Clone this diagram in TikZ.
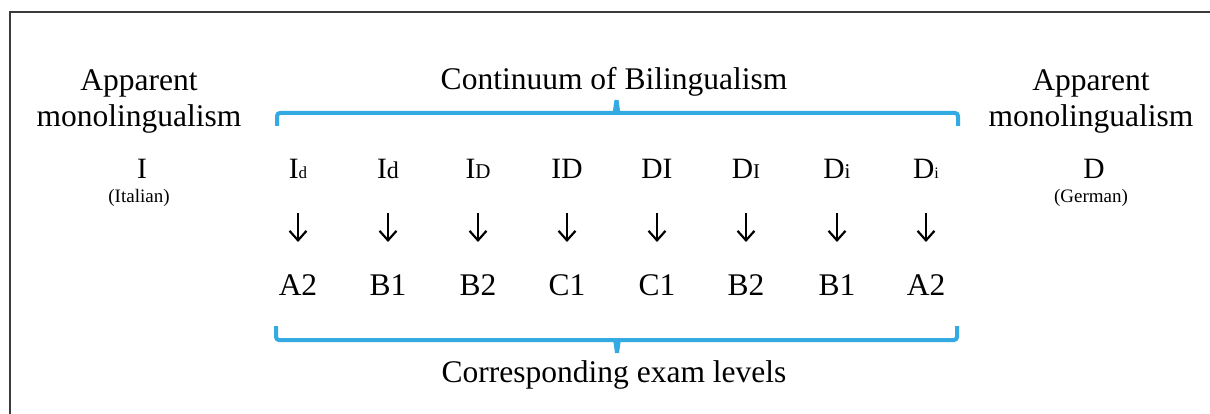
\documentclass[tikz,border=0pt]{standalone}
\usepackage{fontspec}
\setmainfont{Liberation Serif}
\usetikzlibrary{arrows.meta}
\definecolor{bblue}{RGB}{51,170,225}
\definecolor{framec}{RGB}{60,60,60}
\newcommand\fsz[1]{\fontsize{#1}{#1}\selectfont}
\begin{document}
\begin{tikzpicture}[x=1pt,y=-1pt,
  lbl/.style={anchor=base,inner sep=0pt,font=\fontsize{31.5}{35}\selectfont},
  sym/.style={anchor=base,inner sep=0pt,font=\fontsize{29.5}{33}\selectfont},
  lang/.style={anchor=base,inner sep=0pt,font=\fontsize{19}{22}\selectfont},
  lvl/.style={anchor=base,inner sep=0pt,font=\fontsize{31.5}{35}\selectfont},
  brk/.style={draw=bblue,line width=4pt,rounded corners=3pt},
  arr/.style={-{Straight Barb[length=9.5pt,width=17pt,line width=2.2pt]},line width=1.8pt,shorten <=34pt,shorten >=53pt}]
\useasboundingbox (0,0) rectangle (1210,414);
\draw[framec,line width=1.2pt] (10,414) -- (10,12) -- (1210,12);
% side labels
\node[lbl] (appL1) at (139,90.5) {Apparent};
\node[lbl] (appL2) at (139,127) {monolingualism};
\node[lbl] (appR1) at (1091,90.5) {Apparent};
\node[lbl] (appR2) at (1091,127) {monolingualism};
\node[sym] (I) at (142,179) {I};
\node[lang] (it) at (139,203) {(Italian)};
\node[sym] (D) at (1094,179) {D};
\node[lang] (de) at (1091,203) {(German)};
% titles
\node[lbl] (title) at (614,89.5) {Continuum of Bilingualism};
\node[lbl] (subt) at (614,382) {Corresponding exam levels};
% braces
\draw[brk] (277,126) -- (277,113) -- (958,113) -- (958,126);
\fill[bblue] (612.5,114) -- (614.5,100) -- (618.5,100) -- (620.5,114) -- cycle;
\draw[brk] (276,326) -- (276,340) -- (957,340) -- (957,326);
\fill[bblue] (613,339) -- (615,353) -- (619,353) -- (621,339) -- cycle;
% columns
\node[sym] (s1) at (298,179) {I{\fsz{17}d}};
\node[sym] (s2) at (388,179) {I{\fsz{24}d}};
\node[sym] (s3) at (478,179) {I{\fsz{21}D}};
\node[sym] (s4) at (567,179) {ID};
\node[sym] (s5) at (657,179) {DI};
\node[sym] (s6) at (746,179) {D{\fsz{21}I}};
\node[sym] (s7) at (837,179) {D{\fsz{21}i}};
\node[sym] (s8) at (926,179) {D{\fsz{16}i}};
\node[lvl] (l1) at (298,295) {A2};
\node[lvl] (l2) at (388,295) {B1};
\node[lvl] (l3) at (478,295) {B2};
\node[lvl] (l4) at (567,295) {C1};
\node[lvl] (l5) at (657,295) {C1};
\node[lvl] (l6) at (746,295) {B2};
\node[lvl] (l7) at (837,295) {B1};
\node[lvl] (l8) at (926,295) {A2};
\foreach \k in {1,...,8}{\draw[arr] (s\k.base) -- (l\k.base);}
\end{tikzpicture}
\end{document}
